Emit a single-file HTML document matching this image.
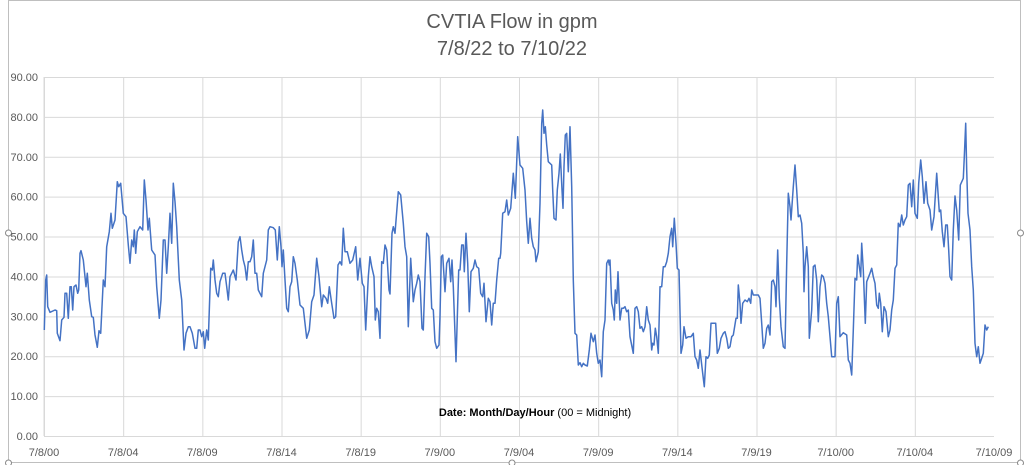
<!DOCTYPE html>
<html><head><meta charset="utf-8"><style>
html,body{margin:0;padding:0;background:#fff;}
svg{display:block;font-family:"Liberation Sans",sans-serif;}
</style></head><body>
<svg id="s" width="1024" height="465" viewBox="0 0 1024 465">
<rect x="8.5" y="0.5" width="1012" height="462" fill="#fff" stroke="#bfbfbf"/>
<circle cx="8.5" cy="233" r="3" fill="#fff" stroke="#888"/>
<circle cx="1020.5" cy="233" r="3" fill="#fff" stroke="#888"/>
<circle cx="512" cy="463" r="3" fill="#fff" stroke="#888"/>
<circle cx="8.5" cy="463" r="3" fill="#fff" stroke="#888"/>
<circle cx="1020.5" cy="463" r="3" fill="#fff" stroke="#888"/>
<text x="512" y="28" text-anchor="middle" font-size="20" fill="#595959">CVTIA Flow in gpm</text>
<text x="512" y="55" text-anchor="middle" font-size="20" fill="#595959">7/8/22 to 7/10/22</text>
<g id="grid" stroke="#d9d9d9" stroke-width="1"></g>
<g id="labels" font-size="11" fill="#595959"></g>
<polyline id="line" fill="none" stroke="#4472c4" stroke-width="1.5" stroke-linejoin="round"/>
<text x="535" y="416" text-anchor="middle" font-size="11" fill="#000"><tspan font-weight="bold">Date: Month/Day/Hour</tspan> (00 = Midnight)</text>
</svg>
<script>
var NS="http://www.w3.org/2000/svg";
function el(t,a,p,txt){var e=document.createElementNS(NS,t);for(var k in a)e.setAttribute(k,a[k]);if(txt)e.textContent=txt;p.appendChild(e);return e;}
var g=document.getElementById('grid'),lb=document.getElementById('labels');
var L=44,R=994,T=77,B=436;
for(var i=0;i<=9;i++){var y=B-(B-T)*i/9;el('line',{x1:L,x2:R,y1:y+0.5,y2:y+0.5},g);
 el('text',{x:38,y:y+4,'text-anchor':'end'},lb,(i*10).toFixed(2));}
var xl=["7/8/00","7/8/04","7/8/09","7/8/14","7/8/19","7/9/00","7/9/04","7/9/09","7/9/14","7/9/19","7/10/00","7/10/04","7/10/09"];
for(var i=0;i<=12;i++){var x=L+(R-L)*i/12;if(i<12)el('line',{x1:x+0.5,x2:x+0.5,y1:T,y2:B},g);
 el('text',{x:x,y:456,'text-anchor':'middle'},lb,xl[i]);}
el('line',{x1:L,x2:L,y1:T,y2:B,stroke:'#d9d9d9'},g);
var segs=[
[0,60,[133,810,137,660,140,645,143,740,150,757,165,750,170,752,172,820,180,842,185,780,192,772,195,700,200,700,205,775,210,680,214,680,218,750,222,680,228,675,233,700,236,690,240,580,243,572,250,600,258,680,262,640,268,720,275,770,280,772,285,825,292,862,297,812,302,820,310,660,315,680,320,560,328,515,333,460,337,505,345,480,352,365,356,380,362,370,370,460,378,470,385,555,390,610,395,540,400,560,403,510,407,580,412,515,420,500,428,510,433,360,438,420,444,510,448,475,455,570,465,585,470,680,478,775,483,720,490,540,495,540,500,640,505,560,510,460,515,550,520,370,525,425,530,500,538,660,545,720,552,870,558,820,565,800,570,800,577,820,585,865,590,865,595,810,600,810,605,830,610,815,614,865,620,810,625,840,632,625,637,630,640,600,645,660,650,700,655,710,660,665,668,640,675,640,680,680,685,720,690,650,695,640,700,630,708,660,715,545,720,530,725,570,730,600,735,620,740,660,745,605,750,605,755,590,760,540,765,640,770,640,775,690,785,710,790,640,800,600,805,510,810,500,820,503,826,510,832,600,838,500,843,560,846,620,850,570,855,660,860,745,865,755,870,680,875,665,880,590,885,610,892,660,900,735]],
[240,90,[0,440,10,475,17,575,22,545,28,520,38,500,42,445,48,550,55,600,65,620,70,550,78,505,87,415,95,410,103,412,112,505,118,415,124,490,128,480,133,600,140,665,145,585,150,575,158,495,165,565,172,570,180,645,190,655,200,745,208,720,215,635,222,615,230,505,237,560,245,650,250,615,258,625,263,640,268,590,275,640,282,685,287,680,294,525,300,515,305,525,310,415,315,485,322,485,330,520,338,510,347,470,353,570,360,505,367,580,372,590,377,720,385,560,390,500,395,530,402,560,406,690,410,655,415,665,420,745,425,515,430,520,435,465,440,480,447,600,450,612,456,430,460,410,465,430,475,305,482,315,490,400,495,470,500,500,505,710,512,505,520,635,525,600,530,580,535,555,540,575,546,715,550,720,555,560,560,430,566,440,570,520,575,655,580,660,585,755,590,775,597,765,600,680,604,500,608,495,615,605,620,520,627,505,632,575,636,510,640,590,648,815,656,540,660,540,665,465,670,465,673,545,678,430,683,520,688,665,693,545,700,535,705,510,710,530,716,535,722,610,728,620,732,580,738,695,745,625,750,635,755,705,760,640,765,640,770,570,776,505,780,505]],
[480,90,[0,620,5,620,10,580,15,640,20,695,25,625,30,635,35,705,40,705,45,640,50,630,55,505,62,490,68,370,75,365,80,330,85,375,92,355,100,250,106,325,113,140,120,225,128,235,135,300,140,395,145,460,150,385,155,445,160,470,165,480,168,515,175,485,180,340,185,100,188,60,192,130,196,110,200,165,205,215,215,225,218,300,222,385,228,390,232,300,237,250,241,192,246,300,249,355,252,230,256,135,260,130,265,245,270,110,275,290,280,570,285,730,290,735,295,825,300,818,305,830,310,820,315,825,322,828,328,780,333,730,340,755,345,735,350,790,355,820,360,810,365,860,370,725,375,690,380,520,385,510,388,525,390,510,395,640,400,660,403,690,406,600,410,640,414,545,420,690,425,655,430,655,435,650,440,665,445,660,450,740,460,790,465,655,470,650,475,665,480,715,485,710,490,725,495,710,500,650,505,690,510,705,515,780,518,760,522,765,526,715,530,740,535,790,540,590,545,590,550,530,555,530,560,515,565,490,570,440,575,415,578,470,583,385,588,460,592,535,597,540,603,790,608,765,612,710,618,745,625,740,633,740,640,730,645,800,650,810,655,835,660,780,668,850,673,890,678,800,683,805,688,795,693,700,700,700,707,700,712,790,718,775,723,745,730,730,735,725,740,745,745,775,750,770,755,740,760,735,768,685,772,685,775,585,780,640]],
[730,90,[30,740,33,700,38,640,45,630,52,635,57,625,62,640,65,600,70,615,85,615,90,625,95,700,100,775,105,760,110,715,115,705,120,735,125,575,130,570,135,590,138,650,143,480,148,625,153,710,160,770,165,775,170,520,175,310,180,350,183,390,190,290,195,225,200,300,205,380,210,375,215,400,220,490,222,605,225,530,230,470,235,530,238,745,245,660,250,530,255,525,260,570,265,695,270,590,275,555,280,560,285,580,290,640,295,680,300,740,305,800,315,800,320,640,325,620,330,740,340,728,350,735,355,810,360,820,365,855,370,720,375,565,380,570,383,495,388,530,392,560,395,460,400,540,406,700,410,575,420,550,425,535,430,560,435,580,440,645,445,655,448,610,452,640,457,725,462,650,468,665,475,740,480,720,485,660,490,630,495,535,500,525,505,400,510,410,515,375,520,405,525,390,530,380,535,285,540,280,545,350,550,270,555,370,562,385,566,280,572,210,577,260,582,340,588,275,593,340,600,360,605,420,612,380,620,250,628,365,632,360,637,425,642,470,647,405,652,405,656,480,660,560,665,570,670,420,675,318,680,360,686,450,691,285,700,265,703,200,707,100,710,240,714,370,720,420,725,530,730,600,735,760,740,800,745,770,750,820,755,805,760,790,765,705,770,720,775,710]]
];
var pts=[],last=-1;
segs.forEach(function(s){var a=s[2];for(var i=0;i<a.length;i+=2){var x=s[0]+a[i]/3,y=s[1]+a[i+1]/3;if(x>last){pts.push(x.toFixed(1)+','+y.toFixed(1));last=x;}}});
document.getElementById('line').setAttribute('points',pts.join(' '));
</script>
</body></html>
